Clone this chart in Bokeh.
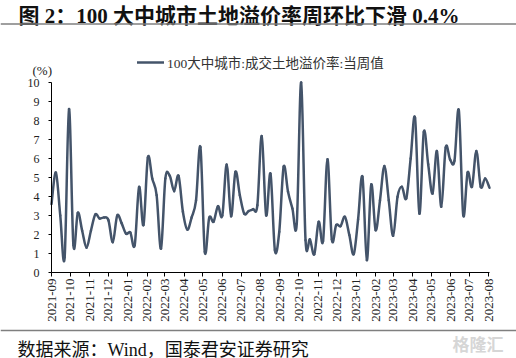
import numpy as np
import pandas as pd
from bokeh.plotting import figure
from bokeh.models import (Label, Legend, LegendItem, FixedTicker, MonthsTicker,
                          DatetimeTickFormatter, Range1d, Span, ColumnDataSource)
from bokeh.embed import file_html
from bokeh.resources import INLINE

# ---------------- data ----------------
title_text = "图 2：100 大中城市土地溢价率周环比下滑 0.4%"
series_name = "100大中城市:成交土地溢价率:当周值"
source_text = "数据来源：Wind，国泰君安证券研究"
watermark_text = "格隆汇"
unit_text = "(%)"
start_date = "2021-09-01"
x_end_date = "2023-08-02"
y_ticks = [0, 1, 2, 3, 4, 5, 6, 7, 8, 9, 10]
premium_rate = [
    3.6, 5.26, 3.0, 0.8, 8.6, 1.44, 3.14, 2.2, 1.3, 2.2,
    3.05, 2.84, 2.9, 2.75, 1.6, 3.0, 2.6, 2.05, 2.1, 1.44,
    4.5, 2.5, 6.05, 4.95, 4.07, 1.26, 4.95, 5.09, 4.28, 5.09,
    3.2, 2.26, 2.9, 3.8, 6.6, 1.09, 2.88, 2.67, 3.49, 3.0,
    5.68, 2.96, 5.3, 4.07, 3.1, 3.23, 3.33, 3.54, 7.18, 3.02,
    5.2, 1.18, 2.14, 5.56, 4.25, 3.37, 2.58, 10.0, 1.7, 1.74,
    0.96, 2.67, 1.65, 5.96, 1.74, 2.5, 2.44, 2.93, 1.97, 0.96,
    2.8, 5.04, 0.65, 4.63, 2.23, 3.8, 5.61, 3.8, 1.93, 3.98,
    4.51, 3.9, 6.0, 8.14, 3.1, 7.4, 5.7, 4.16, 6.39, 3.46,
    6.58, 5.95, 5.88, 8.54, 3.02, 5.26, 4.51, 6.4, 4.51, 4.95,
    4.46,
]
dates = pd.date_range(start_date, periods=len(premium_rate), freq="7D")

# smooth (Catmull-Rom -> cubic Bezier) rendering of the weekly series
xs = (dates.astype("int64") // 10**6).to_numpy().astype(float)
ys = np.array(premium_rate, dtype=float)
xp = np.concatenate([[xs[0]], xs, [xs[-1]]])
yp = np.concatenate([[ys[0]], ys, [ys[-1]]])
n = len(xs) - 1
seg = dict(
    x0=xs[:-1], y0=ys[:-1], x1=xs[1:], y1=ys[1:],
    cx0=xs[:-1] + (xp[2:n + 2] - xp[0:n]) / 6.0,
    cy0=ys[:-1] + (yp[2:n + 2] - yp[0:n]) / 6.0,
    cx1=xs[1:] - (xp[3:n + 3] - xp[1:n + 1]) / 6.0,
    cy1=ys[1:] - (yp[3:n + 3] - yp[1:n + 1]) / 6.0,
)
src = ColumnDataSource(seg)

# ---------------- layout ----------------
W, H = 516, 358
# plot area inside the figure (px from the figure's top-left)
AL, AR, AT, AB = 51, 489, 82, 272
x0_ms = pd.Timestamp(start_date).value / 1e6
x1_ms = pd.Timestamp(x_end_date).value / 1e6
mpp = (x1_ms - x0_ms) / (AR - AL)
ypp = (y_ticks[-1] - y_ticks[0]) / (AB - AT)

SERIF_CJK = "Liberation Serif, Noto Sans CJK SC"
LINE_COLOR = "#44546A"

p = figure(width=W, height=H, output_backend="svg", toolbar_location=None,
           x_axis_type="datetime",
           x_range=Range1d(x0_ms - AL * mpp, x1_ms + (W - AR) * mpp),
           y_range=Range1d(y_ticks[0] - (H - AB) * ypp, y_ticks[-1] + AT * ypp),
           min_border=0, min_border_left=0, min_border_right=0,
           min_border_top=0, min_border_bottom=0)
p.outline_line_color = None
p.grid.visible = False
p.background_fill_color = "white"
p.border_fill_color = "white"

bez = p.bezier(x0="x0", y0="y0", x1="x1", y1="y1", cx0="cx0", cy0="cy0",
               cx1="cx1", cy1="cy1", source=src, line_color=LINE_COLOR,
               line_width=2.5, line_cap="round")

# axes
for ax in (p.xaxis[0], p.yaxis[0]):
    ax.axis_line_color = "black"
    ax.axis_line_width = 1
    ax.major_tick_line_color = "black"
    ax.minor_tick_line_color = None
    ax.major_tick_in = 0
    ax.major_label_text_font = "Liberation Serif"
    ax.major_label_text_color = "#222222"

p.yaxis.ticker = FixedTicker(ticks=y_ticks)
p.yaxis.fixed_location = x0_ms
p.yaxis.bounds = (y_ticks[0], y_ticks[-1])
p.yaxis.major_tick_out = 3
p.yaxis.major_label_standoff = 9
p.yaxis.major_label_text_font_size = "12px"

p.xaxis.ticker = MonthsTicker(months=list(range(1, 13)))
p.xaxis.formatter = DatetimeTickFormatter(months="%Y-%m", days="%Y-%m", years="%Y-%m")
p.xaxis.fixed_location = y_ticks[0]
p.xaxis.bounds = (x0_ms, x1_ms)
p.xaxis.major_label_orientation = np.pi / 2
p.xaxis.major_tick_out = 4
p.xaxis.major_label_standoff = 2
p.xaxis.major_label_text_font_size = "13px"

# helpers: picture px (from top-left) -> screen units
def sx(px):
    return px
def sy(py):
    return H - py
def ydata(py):
    return y_ticks[-1] + (AT - py) * ypp

# legend
legend = Legend(items=[LegendItem(label=series_name, renderers=[bez])],
                location=(sx(137), sy(72)), orientation="horizontal",
                glyph_width=27, glyph_height=12, label_standoff=3,
                padding=0, margin=0, border_line_color=None,
                background_fill_alpha=0,
                label_text_font=SERIF_CJK, label_text_font_size="13.5px",
                label_text_color="#333333")
p.add_layout(legend)

# texts
p.add_layout(Label(x=sx(18), y=sy(15), x_units="screen", y_units="screen",
                   text=title_text, text_font=SERIF_CJK, text_font_size="21px",
                   text_font_style="bold", text_baseline="middle", text_color="#111111"))
p.add_layout(Label(x=sx(32), y=sy(70), x_units="screen", y_units="screen",
                   text=unit_text, text_font="Liberation Serif", text_font_size="13px",
                   text_baseline="middle", text_color="#222222"))
p.add_layout(Label(x=sx(17), y=sy(349), x_units="screen", y_units="screen",
                   text=source_text, text_font=SERIF_CJK, text_font_size="18px",
                   text_baseline="middle", text_color="#111111"))
p.add_layout(Label(x=sx(452), y=sy(343), x_units="screen", y_units="screen",
                   text=watermark_text, text_font="Noto Sans CJK SC", text_font_size="17px",
                   text_font_style="bold", text_baseline="middle", text_color="#d6d6d6"))

# horizontal rules under the title and above the source line
for ry in (23.5, 330.0):
    p.add_layout(Span(location=ydata(ry), dimension="width",
                      line_color="#7f7f7f", line_width=1.5))

open("out.html", "w").write(file_html(p, INLINE))
